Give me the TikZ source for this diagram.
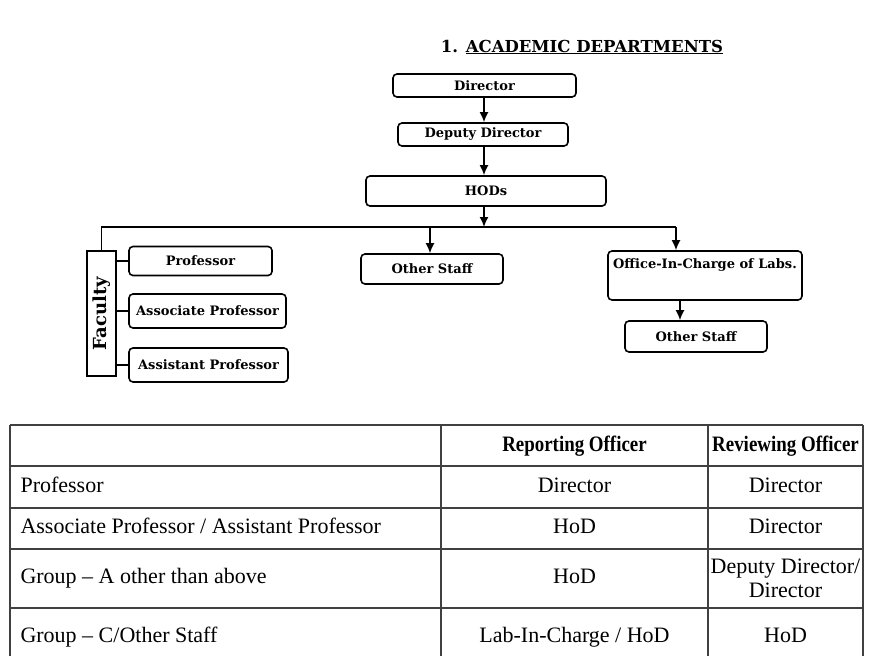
\documentclass[tikz,border=0pt]{standalone}
\usepackage{fontspec}
\setmainfont{DejaVu Serif}
\newfontfamily\tabfont{Liberation Serif}
\newfontfamily\headfont[FakeStretch=0.86]{Liberation Serif}
\usetikzlibrary{arrows.meta}

\begin{document}
\begin{tikzpicture}[x=1pt,y=-1pt,
  box/.style={draw,rounded corners=4pt,line width=1.6pt,inner sep=2pt,font=\fontsize{13}{15}\bfseries},
  arr/.style={-{Latex[length=10pt,width=9pt]},line width=1.6pt},
  link/.style={line width=1.6pt},
  tline/.style={line width=1.2pt,black!75},
  cell/.style={font=\tabfont\fontsize{22}{24}\selectfont,text height=15pt,text depth=5pt},
  twocell/.style={font=\tabfont\fontsize{22}{24}\selectfont,align=center},
  hcell/.style={font=\headfont\fontsize{22}{24}\bfseries,text height=15pt,text depth=5pt}]
\useasboundingbox (0,0) rectangle (873,656);

\node[font=\fontsize{16.5}{20}\bfseries] (title) at (582,47) {1. \underline{ACADEMIC DEPARTMENTS}};

% chain of command
\node[box,minimum width=183pt,minimum height=23pt] (dir) at (484.5,85.5) {Director};
\node[box,minimum width=170pt,minimum height=23pt] (dep) at (483,134.5) {Deputy Director};
\node[box,minimum width=240pt,minimum height=30pt] (hod) at (486,191) {HODs};
\coordinate (bus) at (484,227);
\coordinate (busM) at (430,227);
\coordinate (busR) at (676,227);
\draw[arr] (dir.south -| bus) -- (dep.north -| bus);
\draw[arr] (dep.south -| bus) -- (hod.north -| bus);
\draw[arr] (hod.south -| bus) -- (bus);

% faculty
\node[draw,line width=1.6pt,minimum width=29pt,minimum height=125pt,inner sep=0pt] (fac) at (101.5,313.5) {\rotatebox{90}{\fontsize{18}{20}\bfseries Faculty}};
\node[box,minimum width=143pt,minimum height=29pt] (prof) at (200.5,261) {Professor};
\node[box,minimum width=157pt,minimum height=34pt] (assoc) at (207.5,311) {Associate Professor};
\node[box,minimum width=159pt,minimum height=34pt] (asst) at (208.5,365) {Assistant Professor};
\draw[link] (fac.east |- prof.west) -- (prof.west);
\draw[link] (fac.east |- assoc.west) -- (assoc.west);
\draw[link] (fac.east |- asst.west) -- (asst.west);

% staff and labs
\node[box,minimum width=142pt,minimum height=30pt] (os1) at (432,269) {Other Staff};
\node[box,minimum width=194pt,text height=15pt,text depth=30pt] (ois) at (705,275.5) {Office-In-Charge of Labs.};
\node[box,minimum width=142pt,minimum height=31pt] (os2) at (696,336.5) {Other Staff};
\draw[link] (fac.north) |- (busR);
\draw[arr] (busM) -- (busM |- os1.north);
\draw[arr] (busR) -- (busR |- ois.north);
\draw[arr] ([xshift=-25pt]ois.south) -- ([xshift=-16pt]os2.north);

% table
\foreach \y in {425,466,508,549,608}
  \draw[tline] (10,\y) -- (863,\y);
\foreach \x in {10,441,708,863}
  \draw[tline] (\x,425) -- (\x,656);
\node[hcell] (h2) at (574.5,446) {Reporting Officer};
\node[hcell] (h3) at (785.5,446) {Reviewing Officer};
\node[cell,anchor=west] (a1) at (17,487) {Professor};
\node[cell] (a2) at (574.5,487) {Director};
\node[cell] (a3) at (785.5,487) {Director};
\node[cell,anchor=west] (b1) at (17,528) {Associate Professor / Assistant Professor};
\node[cell] (b2) at (574.5,528) {HoD};
\node[cell] (b3) at (785.5,528) {Director};
\node[cell,anchor=west] (c1) at (17,578) {Group – A other than above};
\node[cell] (c2) at (574.5,578) {HoD};
\node[twocell] (c3) at (785.5,578) {Deputy Director/\\Director};
\node[cell,anchor=west] (d1) at (17,637) {Group – C/Other Staff};
\node[cell] (d2) at (574.5,637) {Lab-In-Charge / HoD};
\node[cell] (d3) at (785.5,637) {HoD};
\end{tikzpicture}
\end{document}
